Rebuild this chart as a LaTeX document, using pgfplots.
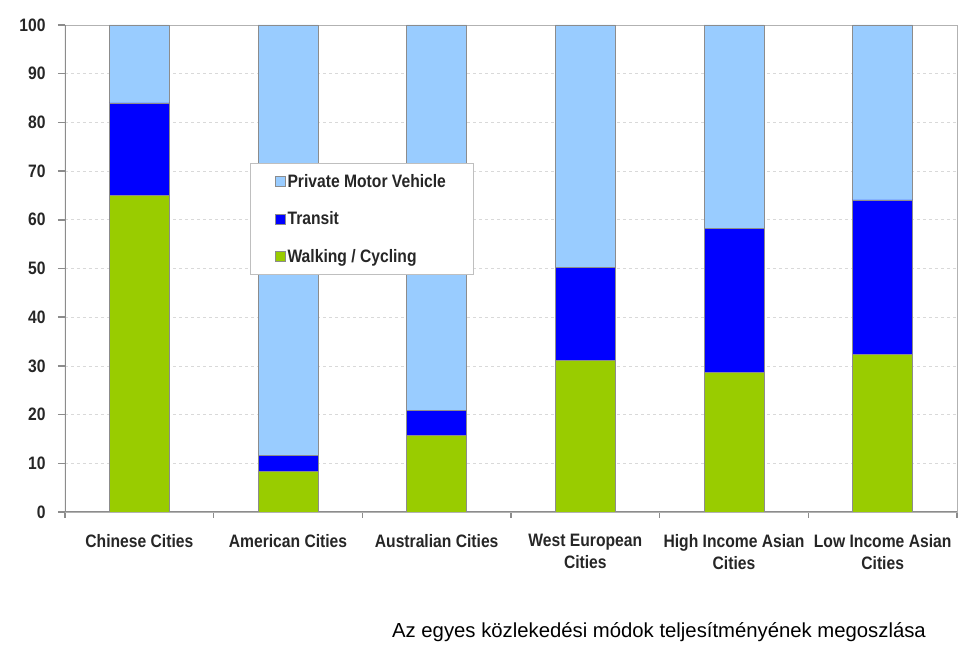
\documentclass[border=0pt]{standalone}
\usepackage{fontspec}
\setmainfont{Liberation Sans}
\newfontfamily\nb[FakeStretch=0.87]{Liberation Sans}
\usepackage{pgfplots}
\pgfplotsset{compat=1.18}
\definecolor{pmv}{HTML}{99CCFF}
\definecolor{trn}{HTML}{0000FF}
\definecolor{wlk}{HTML}{99CC00}
\definecolor{edge}{HTML}{8C8C8C}
\begin{document}
\begin{tikzpicture}[x=1pt,y=1pt]
\useasboundingbox (0,0) rectangle (959,645);
\begin{axis}[
  at={(65pt,133pt)}, anchor=south west,
  width=892pt, height=487pt, scale only axis,
  xmin=-0.5, xmax=5.5, ymin=0, ymax=100,
  ybar stacked, bar width=60pt,
  tick pos=left,
  xtick={0,1,2,3,4,5},
  xticklabels={Chinese Cities, American Cities, Australian Cities, {West European\\Cities}, {High Income Asian\\Cities}, {Low Income Asian\\Cities}},
  xticklabel style={align=center, font=\nb\bfseries\fontsize{18}{22}\selectfont, yshift=-12pt, text=black!85},
  major x tick style={draw=none},
  minor xtick={-0.5,0.5,1.5,2.5,3.5,4.5,5.5},
  minor x tick style={draw=edge, line width=1.5pt},
  minor tick length=6pt,
  ytick={0,10,...,100},
  yticklabel style={font=\nb\bfseries\fontsize{18}{22}\selectfont, xshift=-9pt, text=black!85},
  /pgf/number format/assume math mode=true,
  tick align=outside,
  major tick length=7pt,
  y tick style={draw=edge, line width=1.5pt},
  ymajorgrids, grid style={dashed, draw=black!15, line width=0.6pt},
  axis line style={draw=black!30, line width=0.8pt},
  reverse legend,
  legend cell align=left,
  legend style={at={(rel axis cs:0.207,0.717)}, anchor=north west, draw=black!25, line width=0.8pt,
    font=\nb\bfseries\fontsize{18}{22}\selectfont, text=black!85,
    inner xsep=25pt, inner ysep=9pt, row sep=19pt},
  legend image code/.code={\draw[#1, draw=edge, line width=0.5pt] (0pt,-5pt) rectangle (10pt,5pt);},
  every axis plot/.append style={draw=edge, line width=0.6pt},
]
\addplot[fill=wlk, draw=edge] coordinates {(0,65) (1,8.3) (2,15.8) (3,31.2) (4,28.6) (5,32.4)};
\addlegendentry{Walking / Cycling}
\addplot[fill=trn, draw=edge] coordinates {(0,19) (1,3.3) (2,5.1) (3,19.0) (4,29.7) (5,31.7)};
\addlegendentry{Transit}
\addplot[fill=pmv, draw=edge] coordinates {(0,16) (1,88.4) (2,79.1) (3,49.8) (4,41.7) (5,35.9)};
\addlegendentry{Private Motor Vehicle}
\draw[draw=edge, line width=2pt] (rel axis cs:0,1) -- (rel axis cs:0,0) -- (rel axis cs:1,0);
\end{axis}
\node[font=\fontsize{20.3}{24}\selectfont] at (659,13) {Az egyes közlekedési módok teljesítményének megoszlása};
\end{tikzpicture}
\end{document}
